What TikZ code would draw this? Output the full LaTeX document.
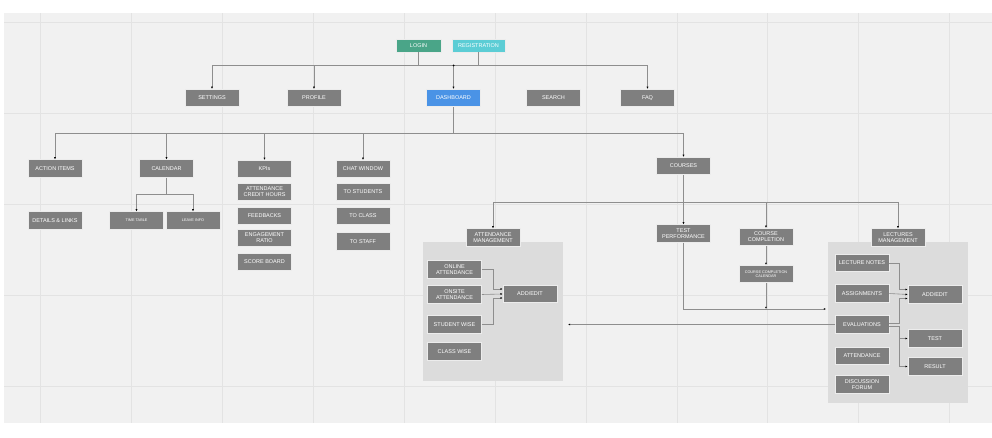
\documentclass[tikz,border=0pt]{standalone}
\usepackage{fontspec}
\setmainfont{Liberation Sans}
\usetikzlibrary{arrows.meta}
\definecolor{bggray}{HTML}{F1F1F1}
\definecolor{gridgray}{HTML}{E3E3E3}
\definecolor{boxgray}{HTML}{7F7F7F}
\definecolor{panelgray}{HTML}{DCDCDC}
\definecolor{linegray}{HTML}{8E8E8E}
\definecolor{logingreen}{HTML}{4AA588}
\definecolor{regcyan}{HTML}{5CCDD5}
\definecolor{dashblue}{HTML}{4A93E6}
\begin{document}
\begin{tikzpicture}[x=1pt,y=-1pt,
    box/.style={draw=white!85!gray, line width=0.6pt, fill=boxgray, text=white,
      minimum width=54, minimum height=17.5, inner sep=0pt, align=center,
      font=\fontsize{5.5}{6.2}\selectfont},
    tiny/.style={font=\fontsize{3.8}{4.5}\selectfont},
    panel/.style={fill=panelgray, minimum width=140, inner sep=0pt},
    line/.style={draw=linegray, line width=0.6pt},
    arr/.style={line, -{Latex[length=2.2pt,width=2pt,color=black]}}]
  % background and grid
  \useasboundingbox (0,0) rectangle (992,438);
  \fill[bggray] (4,13) rectangle (992,423);
  \foreach \gx in {40,131,222,313,404,495,586,677,767,858,949}
    \draw[gridgray, line width=0.6pt] (\gx,13) -- (\gx,423);
  \foreach \gy in {22.5,113,204,295,386}
    \draw[gridgray, line width=0.6pt] (4,\gy) -- (992,\gy);

  % grey panels
  \node[panel, minimum height=139] (attpanel) at (493,311.5) {};
  \node[panel, minimum height=161] (lecpanel) at (898,322.5) {};

  % top row
  \node[box, fill=logingreen, minimum width=45, minimum height=13] (login) at (418.5,45.5) {LOGIN};
  \node[box, fill=regcyan, minimum width=53, minimum height=13] (registration) at (478.5,45.5) {REGISTRATION};
  \node[box] (settings) at (212,98) {SETTINGS};
  \node[box] (profile) at (314,98) {PROFILE};
  \node[box, fill=dashblue] (dashboard) at (453.5,98) {DASHBOARD};
  \node[box] (search) at (553.5,98) {SEARCH};
  \node[box] (faq) at (647.5,98) {FAQ};

  % dashboard items
  \node[box] (actions) at (55,168.5) {ACTION ITEMS};
  \node[box] (details) at (55,220.5) {DETAILS \& LINKS};
  \node[box] (calendar) at (166.5,168.5) {CALENDAR};
  \node[box, tiny] (timetable) at (136.5,220.5) {TIME TABLE};
  \node[box, tiny] (leaveinfo) at (193,220.5) {LEAVE INFO};
  \node[box] (kpis) at (264.5,169) {KPIs};
  \node[box] (credit) at (264.5,192) {ATTENDANCE\\CREDIT HOURS};
  \node[box] (feedbacks) at (264.5,216) {FEEDBACKS};
  \node[box] (engagement) at (264.5,238) {ENGAGEMENT\\RATIO};
  \node[box] (scoreboard) at (264.5,262) {SCORE BOARD};
  \node[box] (chat) at (363,169) {CHAT WINDOW};
  \node[box] (tostudents) at (363,192) {TO STUDENTS};
  \node[box] (toclass) at (363,216) {TO CLASS};
  \node[box] (tostaff) at (363,241.5) {TO STAFF};

  % courses
  \node[box] (courses) at (683.5,166) {COURSES};
  \node[box] (testperf) at (683.5,233.5) {TEST\\PERFORMANCE};
  \node[box] (completion) at (766,237) {COURSE\\COMPLETION};
  \node[box, tiny] (compcal) at (766,274) {COURSE COMPLETION\\CALENDAR};

  % attendance management
  \node[box] (attmgmt) at (493,237.5) {ATTENDANCE\\MANAGEMENT};
  \node[box] (online) at (454.5,269.5) {ONLINE\\ATTENDANCE};
  \node[box] (onsite) at (454.5,294.5) {ONSITE\\ATTENDANCE};
  \node[box] (studentwise) at (454.5,324.5) {STUDENT WISE};
  \node[box] (classwise) at (454.5,351.5) {CLASS WISE};
  \node[box] (addeditA) at (530,294) {ADD/EDIT};

  % lectures management
  \node[box] (lecmgmt) at (898,237.5) {LECTURES\\MANAGEMENT};
  \node[box] (notes) at (862,263) {LECTURE NOTES};
  \node[box] (assignments) at (862,293.5) {ASSIGNMENTS};
  \node[box] (evaluations) at (862,324.5) {EVALUATIONS};
  \node[box] (attendance) at (862,356) {ATTENDANCE};
  \node[box] (forum) at (862,384.5) {DISCUSSION\\FORUM};
  \node[box] (addeditB) at (935,294.5) {ADD/EDIT};
  \node[box] (test) at (935,338.5) {TEST};
  \node[box] (result) at (935,366.5) {RESULT};

  % junctions
  \coordinate (top) at (453.5,65.5);
  \coordinate (dash) at (453.5,133);
  \coordinate (cal) at (166.5,194);
  \coordinate (crs) at (683.5,202);
  \coordinate (lecin) at (826,309);
  \coordinate (attin) at (568,324.5);

  % connectors
  \draw[line] (login.south) |- (top);
  \draw[line] (registration.south) |- (top);
  \draw[arr] (top) -| (settings.north);
  \draw[arr] (top) -| (profile.north);
  \draw[arr] (top) -- (dashboard.north);
  \draw[arr] (top) -| (faq.north);
  \fill (top) circle (1pt);

  \draw[line] (dashboard.south) -- (dash);
  \draw[arr] (dash) -| (actions.north);
  \draw[arr] (dash) -| (calendar.north);
  \draw[arr] (dash) -| (kpis.north);
  \draw[arr] (dash) -| (chat.north);
  \draw[arr] (dash) -| (courses.north);

  \draw[line] (calendar.south) -- (cal);
  \draw[arr] (cal) -| (timetable.north);
  \draw[arr] (cal) -| (leaveinfo.north);

  \draw[arr] (courses.south) -- (testperf.north);
  \draw[arr] (crs) -| (attmgmt.north);
  \draw[arr] (crs) -| (completion.north);
  \draw[arr] (crs) -| (lecmgmt.north);
  \draw[arr] (completion.south) -- (compcal.north);
  \draw[arr] (testperf.south) |- (lecin);
  \draw[arr] (compcal.south) -- (compcal.south |- lecin);
  \draw[arr] (evaluations.west) -- (attin);

  \draw[arr] (online.east) -- ++(11,0) |- ([yshift=5pt]addeditA.west);
  \draw[arr] (onsite.east) -- (addeditA.west);
  \draw[arr] (studentwise.east) -- ++(11,0) |- ([yshift=-4pt]addeditA.west);

  \draw[arr] (notes.east) -- ++(10,0) |- ([yshift=5pt]addeditB.west);
  \draw[arr] (assignments.east) -- (addeditB.west);
  \draw[arr] ([yshift=1.5pt]evaluations.east) -- ++(10,0) |- ([yshift=-4pt]addeditB.west);
  \draw[arr] ([yshift=-2pt]evaluations.east) -- ++(10,0) |- (test.west);
  \draw[arr] ([yshift=-2pt]evaluations.east) -- ++(10,0) |- (result.west);
\end{tikzpicture}
\end{document}
